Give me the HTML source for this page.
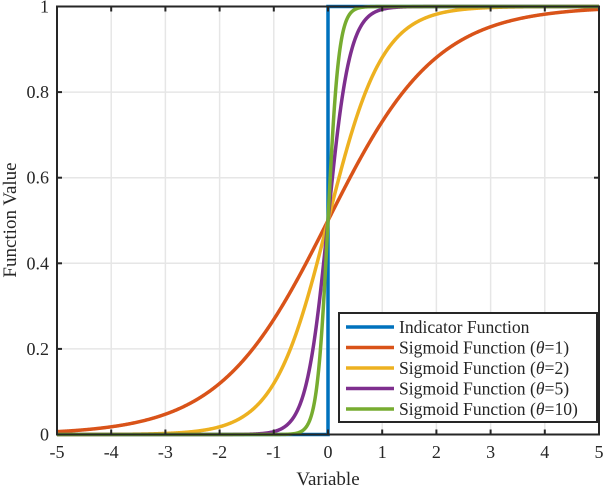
<!DOCTYPE html>
<html><head><meta charset="utf-8"><style>
body{margin:0;background:#fff}
svg text{font-family:"Liberation Serif",serif;fill:#262626}
</style></head><body>
<svg width="606" height="488">
<g id="grid"></g>
<g id="series"></g>
<rect x="57" y="6.5" width="542" height="428" fill="none" stroke="#262626" stroke-width="2"/>
<g id="ticks"></g>
<text x="328" y="485" font-size="19" text-anchor="middle">Variable</text>
<text transform="translate(16,220) rotate(-90)" font-size="19" text-anchor="middle">Function Value</text>
<g id="legend"></g>
</svg>
<script>
const xTicks=[-5,-4,-3,-2,-1,0,1,2,3,4,5];
const yTicks=[0,0.2,0.4,0.6,0.8,1];
const yTickLabels=["0","0.2","0.4","0.6","0.8","1"];
const thetas=[1,2,5,10];
const seriesNames=["Indicator Function","Sigmoid Function (θ=1)","Sigmoid Function (θ=2)","Sigmoid Function (θ=5)","Sigmoid Function (θ=10)"];
const colors=["#0072BD","#D95319","#EDB120","#7E2F8E","#77AC30"];
const X0=57,X1=599,Y0=434.5,Y1=6.5;
const sx=v=>X0+(v+5)/10*(X1-X0), sy=v=>Y0-v*(Y0-Y1);
const NS="http://www.w3.org/2000/svg";
function mk(t,a,p){const e=document.createElementNS(NS,t);for(const k in a)e.setAttribute(k,a[k]);p.appendChild(e);return e;}
const grid=document.getElementById('grid'),ticks=document.getElementById('ticks'),ser=document.getElementById('series'),leg=document.getElementById('legend');
xTicks.forEach(v=>{
 const g=mk('line',{x1:sx(v),x2:sx(v),y1:Y0,y2:Y1,stroke:'#e6e6e6','stroke-width':1.5},grid);
 
 
 mk('line',{x1:sx(v),x2:sx(v),y1:Y0,y2:Y0-5,stroke:'#262626','stroke-width':2},ticks);
 mk('line',{x1:sx(v),x2:sx(v),y1:Y1,y2:Y1+5,stroke:'#262626','stroke-width':2},ticks);
 const t=mk('text',{x:sx(v),y:458,'font-size':18,'text-anchor':'middle'},ticks);t.textContent=String(v);
 
 
});
yTicks.forEach((v,i)=>{
 const g=mk('line',{x1:X0,x2:X1,y1:sy(v),y2:sy(v),stroke:'#e6e6e6','stroke-width':1.5},grid);
 
 
 mk('line',{x1:X0,x2:X0+5,y1:sy(v),y2:sy(v),stroke:'#262626','stroke-width':2},ticks);
 mk('line',{x1:X1,x2:X1-5,y1:sy(v),y2:sy(v),stroke:'#262626','stroke-width':2},ticks);
 const t=mk('text',{x:49,y:sy(v)+6,'font-size':18,'text-anchor':'end'},ticks);t.textContent=yTickLabels[i];
 
 
});
const ind=mk('polyline',{points:`${sx(-5)},${sy(0)} ${sx(0)},${sy(0)} ${sx(0)},${sy(1)} ${sx(5)},${sy(1)}`,fill:'none',stroke:colors[0],'stroke-width':3.5},ser);


thetas.forEach((th,i)=>{
 const pts=[];for(let k=0;k<=1000;k++){const x=-5+k/100;pts.push(sx(x).toFixed(2)+','+sy(1/(1+Math.exp(-th*x))).toFixed(2));}
 const p=mk('polyline',{points:pts.join(' '),fill:'none',stroke:colors[i+1],'stroke-width':3.5},ser);
 
 
});
mk('rect',{x:339,y:313,width:258,height:109,fill:'#fff',stroke:'#262626','stroke-width':2},leg);
seriesNames.forEach((n,i)=>{
 const y=327+i*20.5;
 mk('line',{x1:346,x2:394,y1:y,y2:y,stroke:colors[i],'stroke-width':3.5},leg);
 const t=mk('text',{x:399,y:y+6,'font-size':17.6},leg);
 
 
 const m=n.match(/^(.*)\(θ=(\d+)\)$/);
 if(m){t.textContent=m[1]+'(';const s=mk('tspan',{'font-style':'italic'},t);s.textContent='θ';t.appendChild(document.createTextNode('='+m[2]+')'));}
 else t.textContent=n;
});
</script>
</body></html>
